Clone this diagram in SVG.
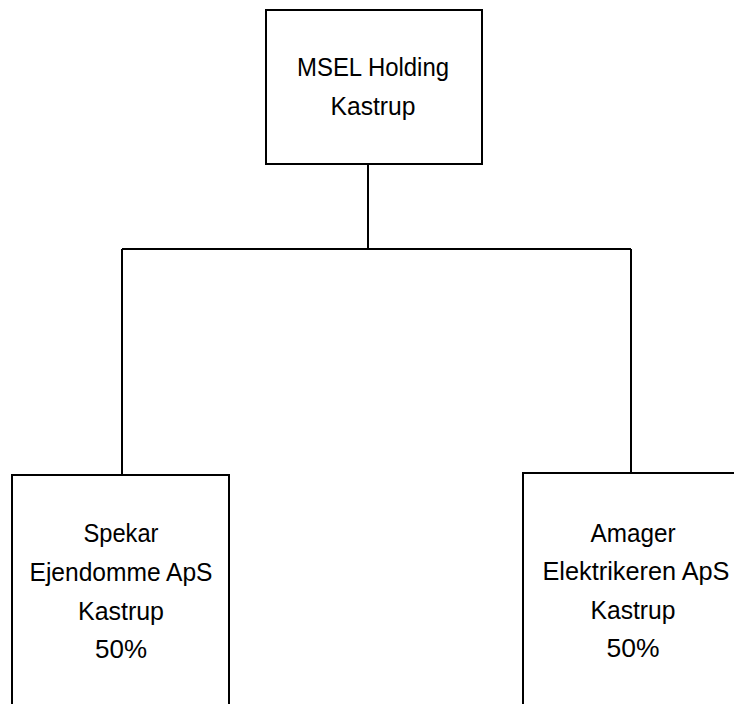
<svg xmlns="http://www.w3.org/2000/svg" width="734" height="704" viewBox="0 0 734 704">
<style>
.box{fill:#fff;stroke:#000;stroke-width:2}
.ln{fill:none;stroke:#000;stroke-width:2}
text{font-family:"Liberation Sans",Arial,sans-serif;font-size:26px;fill:#000;text-anchor:middle}
</style>
<rect width="734" height="704" fill="#fff"/>
<g id="connectors">
<path class="ln" d="M368 164 V249 M122 249 H631 M122 249 V475 M631 249 V473"/>
</g>
<g id="node-msel">
<rect class="box" x="266" y="10" width="216" height="154"/>
<text x="373" y="76" textLength="152" lengthAdjust="spacingAndGlyphs">MSEL Holding</text>
<text x="373" y="115" textLength="85" lengthAdjust="spacingAndGlyphs">Kastrup</text>
</g>
<g id="node-spekar">
<rect class="box" x="12" y="475" width="217" height="240"/>
<text x="121" y="542" textLength="75" lengthAdjust="spacingAndGlyphs">Spekar</text>
<text x="121" y="581" textLength="183" lengthAdjust="spacingAndGlyphs">Ejendomme ApS</text>
<text x="121" y="620" textLength="86" lengthAdjust="spacingAndGlyphs">Kastrup</text>
<text x="121" y="658" textLength="52" lengthAdjust="spacingAndGlyphs">50%</text>
</g>
<g id="node-amager">
<rect class="box" x="523" y="473" width="230" height="240"/>
<text x="633" y="542" textLength="85" lengthAdjust="spacingAndGlyphs">Amager</text>
<text x="636" y="580" textLength="187" lengthAdjust="spacingAndGlyphs">Elektrikeren ApS</text>
<text x="633" y="619" textLength="85" lengthAdjust="spacingAndGlyphs">Kastrup</text>
<text x="633" y="657" textLength="53" lengthAdjust="spacingAndGlyphs">50%</text>
</g>
</svg>
